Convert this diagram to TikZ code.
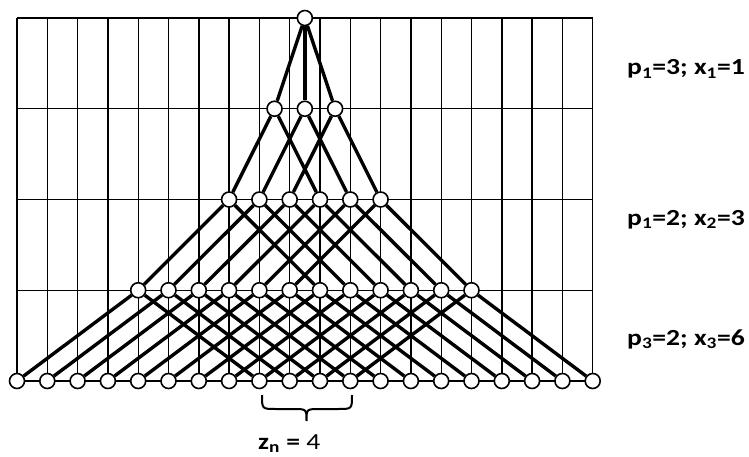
\documentclass[tikz,border=0pt]{standalone}
\usepackage{fontspec}
\setmainfont{Carlito}
\usepackage{graphicx}
\usetikzlibrary{backgrounds}
\begin{document}
\begin{tikzpicture}[x=1pt,y=-1pt,
  gridline/.style={line width=1.4pt},
  edge/.style={line width=3.4pt},
  vtx/.style={circle,draw,fill=white,line width=1.6pt,minimum size=15pt,inner sep=0pt},
  lbl/.style={anchor=base west,inner sep=0pt,font=\fontsize{23}{28}\selectfont\bfseries},
  zlbl/.style={anchor=base west,inner sep=0pt,font=\fontsize{23}{28}\selectfont},
  bracestyle/.style={line width=2pt}]
\useasboundingbox (0,0) rectangle (749,457);
% nodes
\node[vtx] (t) at ({17+30.3*9.5},18) {};
\foreach \i in {1,2,3} \node[vtx] (a\i) at ({17+30.3*(7.5+\i)},108.75) {};
\foreach \i in {1,...,6} \node[vtx] (b\i) at ({17+30.3*(6+\i)},199.5) {};
\foreach \i in {1,...,12} \node[vtx] (c\i) at ({17+30.3*(3+\i)},290.25) {};
\foreach \i in {1,...,20} \node[vtx] (d\i) at ({17+30.3*(\i-1)},381) {};
\begin{scope}[on background layer]
  % grid
  \foreach \k in {0,...,19} \draw[gridline] ({17+30.3*\k},18) -- ({17+30.3*\k},381);
  \foreach \yy in {18,108.75,199.5,290.25,381} \draw[gridline] (17,\yy) -- (592.7,\yy);
  % edges
  \foreach \i in {1,2,3} \draw[edge] (t) -- (a\i);
  \foreach \i in {1,2,3} {\pgfmathtruncatemacro{\j}{\i+3}\draw[edge] (a\i) -- (b\i) (a\i) -- (b\j);}
  \foreach \i in {1,...,6} {\pgfmathtruncatemacro{\j}{\i+6}\draw[edge] (b\i) -- (c\i) (b\i) -- (c\j);}
  \foreach \i in {1,...,12} {\pgfmathtruncatemacro{\j}{\i+8}\draw[edge] (c\i) -- (d\i) (c\i) -- (d\j);}
\end{scope}
% brace
\draw[bracestyle] (262,395) .. controls (262,409) .. (276,409) -- (293,409)
  .. controls (306.5,409) .. (306.5,421) .. controls (306.5,409) .. (320,409)
  -- (338,409) .. controls (352,409) .. (352,395);
% labels
\node[lbl] (l1) at (627,75) {\scalebox{1.2}[1]{p\textsubscript{1}=3; x\textsubscript{1}=1}};
\node[lbl] (l2) at (627,225) {\scalebox{1.2}[1]{p\textsubscript{1}=2; x\textsubscript{2}=3}};
\node[lbl] (l3) at (627,345) {\scalebox{1.2}[1]{p\textsubscript{3}=2; x\textsubscript{3}=6}};
\node[zlbl] (z) at (258,449) {\scalebox{1.2}[1]{\textbf{z\textsubscript{n} =} 4}};
\end{tikzpicture}
\end{document}
